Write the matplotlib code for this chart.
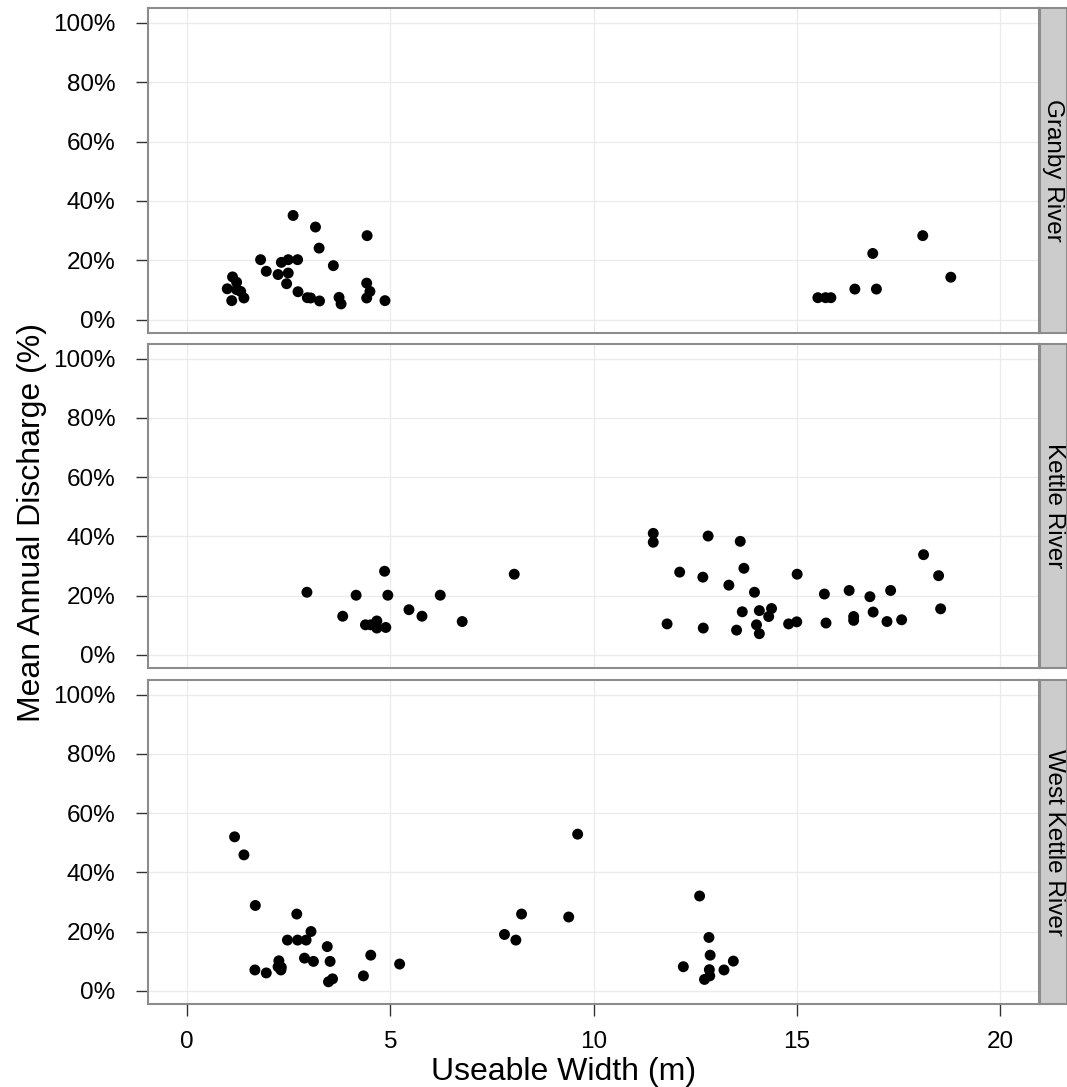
import matplotlib
matplotlib.use("Agg")
import matplotlib.pyplot as plt
from matplotlib.ticker import FuncFormatter

plt.rcParams['font.family'] = ['Liberation Sans', 'DejaVu Sans']

rivers = ["Granby River", "Kettle River", "West Kettle River"]

granby_x = [2.61, 3.16, 4.43, 3.25, 1.81, 2.32, 2.49, 2.72, 3.60, 1.95, 2.24, 2.49, 2.45, 1.12,
            1.22, 0.99, 1.22, 1.32, 1.40, 1.10, 2.73, 2.96, 3.04, 3.26, 3.74, 3.79, 4.42, 4.50,
            4.42, 4.87, 18.10, 16.87, 18.79, 16.43, 16.96, 15.52, 15.71, 15.84]
granby_y = [35.1, 31.2, 28.3, 24.1, 20.2, 19.3, 20.2, 20.2, 18.2, 16.3, 15.2, 15.7, 12.1, 14.4,
            12.6, 10.4, 10.1, 9.5, 7.3, 6.4, 9.4, 7.4, 7.3, 6.3, 7.5, 5.3, 12.3, 9.5,
            7.3, 6.4, 28.3, 22.3, 14.3, 10.3, 10.3, 7.4, 7.4, 7.4]

kettle_x = [2.95, 3.83, 4.16, 4.86, 4.94, 4.39, 4.52, 4.67, 4.67, 4.89, 5.46, 5.78, 6.23, 6.77,
            8.05, 11.47, 11.47, 12.82, 12.12, 12.69, 11.81, 12.70, 13.61, 13.70, 13.33, 13.96,
            15.01, 15.68, 16.29, 13.66, 14.08, 14.38, 14.31, 14.01, 14.08, 13.52, 14.80, 15.00,
            15.72, 16.40, 16.40, 16.80, 17.31, 18.12, 18.49, 18.54, 16.88, 17.22, 17.58]
kettle_y = [21.1, 13.0, 20.1, 28.2, 20.1, 10.1, 10.1, 11.4, 9.0, 9.2, 15.2, 13.0, 20.1, 11.2,
            27.2, 41.0, 38.0, 40.1, 27.9, 26.2, 10.4, 9.0, 38.3, 29.2, 23.5, 21.1,
            27.2, 20.5, 21.7, 14.5, 14.9, 15.6, 12.9, 10.1, 7.1, 8.3, 10.4, 11.1,
            10.7, 12.9, 11.6, 19.6, 21.7, 33.8, 26.7, 15.5, 14.4, 11.2, 11.8]

westkettle_x = [1.17, 1.40, 1.68, 2.70, 3.05, 2.47, 2.72, 2.93, 3.45, 2.89, 3.11, 3.52, 4.52,
                5.23, 2.26, 2.24, 2.32, 2.31, 1.67, 1.95, 4.34, 3.48, 3.58, 9.61, 8.23, 9.39,
                7.81, 8.09, 12.61, 12.84, 12.87, 12.21, 13.44, 13.21, 12.85, 12.86, 12.73]
westkettle_y = [52.0, 45.9, 28.8, 25.9, 20.0, 17.1, 17.1, 17.1, 14.9, 11.0, 9.9, 9.9, 12.0,
                9.0, 10.1, 8.1, 7.9, 7.0, 7.0, 6.0, 5.0, 3.0, 4.0, 52.9, 25.9, 24.9,
                19.0, 17.1, 32.0, 18.0, 12.0, 8.1, 10.0, 7.0, 7.1, 5.0, 3.8]

series = [(granby_x, granby_y), (kettle_x, kettle_y), (westkettle_x, westkettle_y)]

x_ticks = [0, 5, 10, 15, 20]
y_ticks = [0, 20, 40, 60, 80, 100]

W, H = 1067, 1087
fig = plt.figure(figsize=(W / 100, H / 100), dpi=100)

left, right = 148, 1039
panels = [(8, 333), (344, 668), (680, 1004)]
border_col = "#8c8c8c"

for i, ((top, bot), (xs, ys), name) in enumerate(zip(panels, series, rivers)):
    ax = fig.add_axes([left / W, 1 - bot / H, (right - left) / W, (bot - top) / H])
    ax.set_xlim(-0.96, 20.96)
    ax.set_ylim(-4.5, 105)
    ax.set_xticks(x_ticks)
    ax.set_yticks(y_ticks)
    ax.yaxis.set_major_formatter(FuncFormatter(lambda v, p: f"{int(v)}%"))
    ax.grid(True, color="#ebebeb", linewidth=0.9)
    ax.set_axisbelow(True)
    for s in ax.spines.values():
        s.set_color(border_col)
        s.set_linewidth(1.5)
    ax.scatter(xs, ys, s=62, color="black", edgecolors="none", zorder=3)
    ax.tick_params(axis="both", length=8.6, width=1.0, color="#333333",
                   labelsize=17.5, labelcolor="black", pad=15)
    ax.tick_params(axis="x", pad=11)
    if i < 2:
        ax.tick_params(axis="x", labelbottom=False, length=0)
    # strip
    sax = fig.add_axes([(right + 1) / W, 1 - bot / H, (W - right - 1) / W, (bot - top) / H])
    sax.set_facecolor("#cccccc")
    sax.set_xticks([])
    sax.set_yticks([])
    for s in sax.spines.values():
        s.set_color(border_col)
        s.set_linewidth(1.5)
    sax.text(0.5, 0.5, name, rotation=-90, ha="center", va="center",
             fontsize=17.5, transform=sax.transAxes)

fig.text(40 / W, 1 - 523 / H, "Mean Annual Discharge (%)", rotation=90,
         rotation_mode="anchor", ha="center", va="baseline", fontsize=23)
fig.text(564 / W, 1 - 1080 / H, "Useable Width (m)", ha="center", va="baseline", fontsize=23)

fig.savefig("out.png", dpi=100, facecolor="white")
